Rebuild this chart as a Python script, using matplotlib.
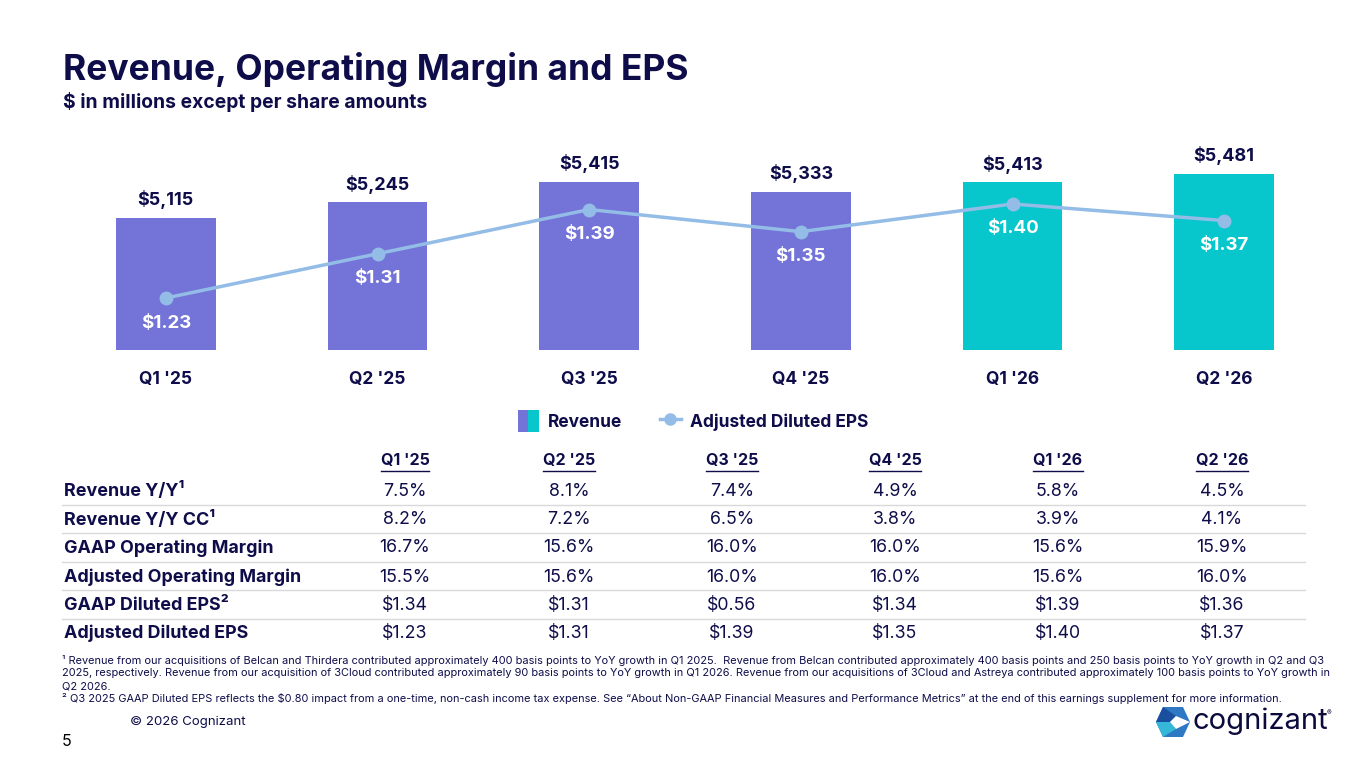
import matplotlib
matplotlib.use("Agg")
import matplotlib.pyplot as plt
from matplotlib.patches import Patch, Polygon
from matplotlib.lines import Line2D
from matplotlib.legend_handler import HandlerTuple

# ---------------- data ----------------
quarters = ["Q1 '25", "Q2 '25", "Q3 '25", "Q4 '25", "Q1 '26", "Q2 '26"]
revenue = [5115, 5245, 5415, 5333, 5413, 5481]
adj_eps = [1.23, 1.31, 1.39, 1.35, 1.40, 1.37]
bar_kind = ["past", "past", "past", "past", "current", "current"]

row_labels = ["Revenue Y/Y\u00b9", "Revenue Y/Y CC\u00b9", "GAAP Operating Margin",
              "Adjusted Operating Margin", "GAAP Diluted EPS\u00b2", "Adjusted Diluted EPS"]
rev_yy = ["7.5%", "8.1%", "7.4%", "4.9%", "5.8%", "4.5%"]
rev_yy_cc = ["8.2%", "7.2%", "6.5%", "3.8%", "3.9%", "4.1%"]
gaap_om = ["16.7%", "15.6%", "16.0%", "16.0%", "15.6%", "15.9%"]
adj_om = ["15.5%", "15.6%", "16.0%", "16.0%", "15.6%", "16.0%"]
gaap_eps = ["$1.34", "$1.31", "$0.56", "$1.34", "$1.39", "$1.36"]
adj_eps_txt = ["$1.23", "$1.31", "$1.39", "$1.35", "$1.40", "$1.37"]
table_rows = [rev_yy, rev_yy_cc, gaap_om, adj_om, gaap_eps, adj_eps_txt]

footnotes = [
    "\u00b9 Revenue from our acquisitions of Belcan and Thirdera contributed approximately 400 basis points to YoY growth in Q1 2025.  Revenue from Belcan contributed approximately 400 basis points and 250 basis points to YoY growth in Q2 and Q3",
    "2025, respectively. Revenue from our acquisition of 3Cloud contributed approximately 90 basis points to YoY growth in Q1 2026. Revenue from our acquisitions of 3Cloud and Astreya contributed approximately 100 basis points to YoY growth in",
    "Q2 2026.",
    "\u00b2 Q3 2025 GAAP Diluted EPS reflects the $0.80 impact from a one-time, non-cash income tax expense. See \u201cAbout Non-GAAP Financial Measures and Performance Metrics\u201d at the end of this earnings supplement for more information.",
]

# ---------------- style ----------------
NAVY = "#0E0D4A"
PURPLE = "#7373D8"
TEAL = "#07C7CC"
LINE = "#93BCE6"
FAM = ["Inter", "DejaVu Sans"]
plt.rcParams["font.family"] = FAM

W, H = 1365, 768
fig = plt.figure(figsize=(W / 100, H / 100), dpi=100)
fig.patch.set_facecolor("white")

def fx(x):
    return x / W

def fy(y):
    return 1 - y / H

def ftext(x, y, s, **kw):
    kw.setdefault("color", NAVY)
    kw.setdefault("parse_math", False)
    return fig.text(fx(x), fy(y), s, **kw)

# title
ftext(63, 80, "Revenue, Operating Margin and EPS", fontsize=25.5, fontweight="bold",
      va="baseline", ha="left")
ftext(63, 108, "$ in millions except per share amounts", fontsize=13.9, fontweight="bold",
      va="baseline", ha="left")

# ---------------- chart ----------------
ax = fig.add_axes([fx(60), fy(350), fx(1330) - fx(60), fy(150) - fy(350)])
xs = list(range(len(quarters)))
colors = [PURPLE if k == "past" else TEAL for k in bar_kind]
ax.bar(xs, revenue, width=0.47, color=colors, zorder=2)
ax.set_xlim(-0.5, 5.5)
ax.set_ylim(4017, 5681)
ax.set_yticks([])
ax.set_xticks(xs)
ax.set_xticklabels(quarters, fontsize=12.5, fontweight="bold", color=NAVY)
ax.tick_params(axis="x", length=0, pad=15)
for s in ax.spines.values():
    s.set_visible(False)
for x, v in zip(xs, revenue):
    ax.annotate(f"${v:,}", (x, v), xytext=(0, 13), textcoords="offset points",
                ha="center", va="center", fontsize=13, fontweight="bold", color=NAVY,
                parse_math=False)

ax2 = ax.twinx()
ax2.set_ylim(1.136, 1.4976)
ax2.set_yticks([])
for s in ax2.spines.values():
    s.set_visible(False)
ax2.plot(xs, adj_eps, color=LINE, lw=2.5, marker="o", markersize=9, zorder=3)
for x, v in zip(xs, adj_eps):
    ax2.annotate(f"${v:.2f}", (x, v), xytext=(0, -18), textcoords="offset points",
                 ha="center", va="center", fontsize=13.5, fontweight="bold", color="white",
                 parse_math=False)

# legend
h_rev = (Patch(facecolor=PURPLE), Patch(facecolor=TEAL))
h_eps = Line2D([], [], color=LINE, lw=2.5, marker="o", markersize=8)
leg = fig.legend([h_rev, h_eps], ["Revenue", "Adjusted Diluted EPS"],
                 handler_map={tuple: HandlerTuple(ndivide=None, pad=0)},
                 loc="center", bbox_to_anchor=(fx(693), fy(421)), ncol=2, frameon=False,
                 handlelength=1.2, handleheight=1.5, columnspacing=2.2, handletextpad=0.5,
                 prop={"family": FAM, "weight": "bold", "size": 12.5})
for t in leg.get_texts():
    t.set_color(NAVY)

# ---------------- table ----------------
col_x = [405, 569, 732, 895, 1058, 1222]
header_y = 461
row_y = [491, 520, 548, 577, 605, 633]
sep_y = [504.5, 533, 561.5, 590, 618.5]

fig.canvas.draw()
renderer = fig.canvas.get_renderer()
for x, q in zip(col_x, quarters):
    t = ftext(x, header_y, q, fontsize=11.5, fontweight="bold", ha="center", va="center")
    bb = t.get_window_extent(renderer)
    fig.add_artist(Line2D([bb.x0 / W, bb.x1 / W], [fy(470.5)] * 2, color=NAVY, lw=1.0))

for y, lab, vals in zip(row_y, row_labels, table_rows):
    ftext(64, y, lab, fontsize=12.9, fontweight="bold", ha="left", va="center")
    for x, v in zip(col_x, vals):
        ftext(x, y, v, fontsize=12.8, ha="center", va="center")

for y in sep_y:
    fig.add_artist(Line2D([fx(62), fx(1305)], [fy(y)] * 2, color="#D9D9D9", lw=1.0))

# footnotes
for i, line in enumerate(footnotes):
    ftext(62, 660 + 13 * i, line, fontsize=7.9, ha="left", va="center")

ftext(130, 722, "\u00a9 2026 Cognizant", fontsize=9.5, ha="left", va="center")
ftext(62, 741, "5", fontsize=11.5, ha="left", va="center", color="black")

# logo
icon = [(1163, 707), (1183, 707), (1190, 722), (1183, 737), (1163, 737), (1156, 722)]
fig.add_artist(Polygon([(fx(a), fy(b)) for a, b in icon], closed=True,
                       facecolor="#2F78C4", edgecolor="none", transform=fig.transFigure))
fig.add_artist(Polygon([(fx(a), fy(b)) for a, b in [(1156, 722), (1163, 707), (1176, 716), (1170, 722)]],
                       closed=True, facecolor="#1A4FA0", edgecolor="none", transform=fig.transFigure))
fig.add_artist(Polygon([(fx(a), fy(b)) for a, b in [(1156, 722), (1170, 722), (1176, 729), (1163, 737)]],
                       closed=True, facecolor="#35B7D8", edgecolor="none", transform=fig.transFigure))
fig.add_artist(Polygon([(fx(a), fy(b)) for a, b in [(1170, 722), (1176, 716), (1190, 722), (1176, 729)]],
                       closed=True, facecolor="white", edgecolor="none", transform=fig.transFigure))
ftext(1192, 721, "cognizant", fontsize=21, ha="left", va="center", color="#0A0A3C")
ftext(1327, 713, "\u00ae", fontsize=5, ha="left", va="center", color="#0A0A3C")

fig.savefig("out.png", dpi=100, facecolor="white")
